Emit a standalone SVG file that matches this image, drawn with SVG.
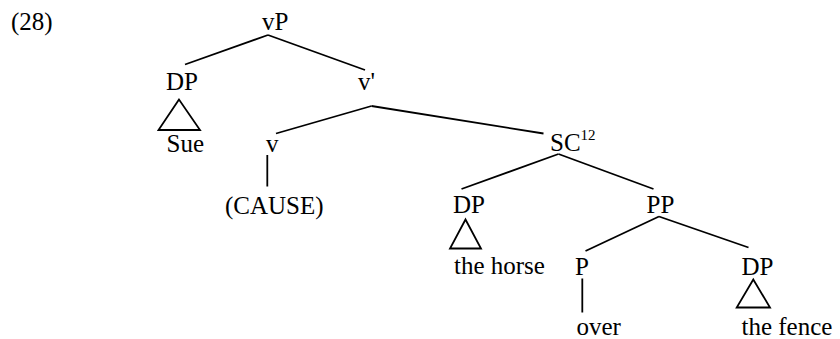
<svg xmlns="http://www.w3.org/2000/svg" width="840" height="339" viewBox="0 0 840 339">
<style>
text{font-family:"Liberation Serif","Times New Roman",serif;font-size:25px;fill:#000}
.sup{font-size:15px}
line,polygon{stroke:#000;stroke-width:1.8;fill:none}
</style>
<rect width="840" height="339" fill="#fff"/>
<text id="label" x="11" y="30">(28)</text>
<g id="connectors">
<line x1="268" y1="35" x2="185" y2="64.5"/>
<line x1="268" y1="35" x2="365" y2="70"/>
<line x1="371.5" y1="106" x2="276" y2="133.5"/>
<line x1="371.5" y1="106" x2="543.5" y2="133.5"/>
<line x1="267.3" y1="155" x2="267.3" y2="186.5"/>
<line x1="558.5" y1="154" x2="461.5" y2="189"/>
<line x1="558.5" y1="154" x2="653.5" y2="189"/>
<line x1="659" y1="216.5" x2="585.5" y2="251"/>
<line x1="659" y1="216.5" x2="748.5" y2="247.5"/>
<line x1="582.3" y1="278.5" x2="582.3" y2="312.5"/>
</g>
<g id="vP"><text x="262" y="29.5">vP</text></g>
<g id="DP1"><text x="166" y="90">DP</text></g>
<g id="Sue"><polygon points="179,99.5 158.5,130 200,130"/><text x="166.5" y="152">Sue</text></g>
<g id="vbar"><text x="358" y="90">v'</text></g>
<g id="v"><text x="266" y="152">v</text></g>
<g id="CAUSE"><text x="225" y="214">(CAUSE)</text></g>
<g id="SC"><text x="550" y="151">SC<tspan class="sup" dy="-11">12</tspan></text></g>
<g id="DP2"><text x="453" y="213">DP</text></g>
<g id="horse"><polygon points="465.5,219.5 450,248.5 481,248.5"/><text x="454" y="273.5">the horse</text></g>
<g id="PP"><text x="646.5" y="213">PP</text></g>
<g id="P"><text x="575" y="275">P</text></g>
<g id="DP3"><text x="741.5" y="275">DP</text></g>
<g id="over"><text x="576.5" y="335">over</text></g>
<g id="fence"><polygon points="753.3,279.5 736.7,307.5 770,307.5"/><text x="741.5" y="335">the fence</text></g>
</svg>
